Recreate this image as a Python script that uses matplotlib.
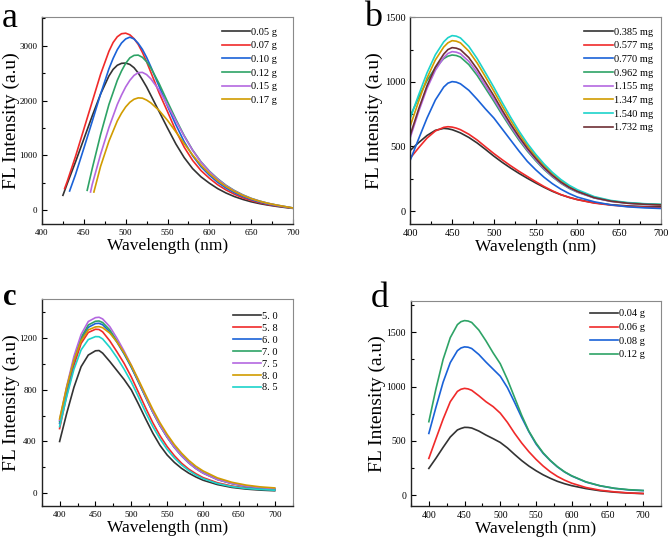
import matplotlib
matplotlib.use("Agg")
import matplotlib.pyplot as plt
from matplotlib.ticker import AutoMinorLocator

plt.rcParams['font.family'] = ['Liberation Serif', 'DejaVu Serif']

# ---------------- panel a : FL vs. amount (g) ----------------
a_labels = ["0.05 g", "0.07 g", "0.10 g", "0.12 g", "0.15 g", "0.17 g"]
a_x = [
    [425, 430, 440, 450, 460, 470, 480, 485, 490, 495, 500, 505, 510, 515, 520, 525, 530, 540, 550, 560, 570, 580, 590, 600, 610, 620, 630, 640, 650, 660, 670, 680, 690, 700],
    [427, 430, 440, 450, 460, 470, 480, 485, 490, 495, 500, 505, 510, 515, 520, 525, 530, 540, 550, 560, 570, 580, 590, 600, 610, 620, 630, 640, 650, 660, 670, 680, 690, 700],
    [433, 440, 450, 460, 470, 480, 485, 490, 495, 500, 505, 510, 515, 520, 525, 530, 540, 550, 560, 570, 580, 590, 600, 610, 620, 630, 640, 650, 660, 670, 680, 690, 700],
    [454, 460, 470, 480, 490, 495, 500, 505, 510, 515, 520, 525, 530, 540, 550, 560, 570, 580, 590, 600, 610, 620, 630, 640, 650, 660, 670, 680, 690, 700],
    [458, 460, 470, 480, 490, 495, 500, 505, 510, 515, 520, 525, 530, 540, 550, 560, 570, 580, 590, 600, 610, 620, 630, 640, 650, 660, 670, 680, 690, 700],
    [462, 470, 480, 490, 495, 500, 505, 510, 515, 520, 525, 530, 540, 550, 560, 570, 580, 590, 600, 610, 620, 630, 640, 650, 660, 670, 680, 690, 700],
]
a_y = [
    [273, 480, 880, 1300, 1720, 2120, 2450, 2570, 2645, 2680, 2685, 2660, 2600, 2505, 2380, 2250, 2100, 1800, 1500, 1210, 960, 760, 610, 495, 395, 315, 250, 198, 155, 122, 95, 72, 52, 35],
    [395, 520, 980, 1480, 1980, 2480, 2900, 3060, 3165, 3220, 3230, 3200, 3130, 3025, 2880, 2710, 2520, 2140, 1800, 1450, 1150, 910, 725, 585, 465, 370, 292, 228, 178, 138, 105, 80, 58, 38],
    [352, 650, 1130, 1620, 2120, 2580, 2770, 2930, 3050, 3125, 3157, 3125, 3045, 2935, 2790, 2620, 2260, 1900, 1560, 1250, 995, 795, 640, 510, 405, 320, 252, 196, 150, 114, 86, 62, 40],
    [364, 760, 1380, 1930, 2370, 2540, 2680, 2780, 2825, 2830, 2790, 2710, 2600, 2310, 1980, 1660, 1360, 1100, 885, 715, 575, 455, 360, 282, 218, 168, 128, 96, 68, 42],
    [333, 470, 1020, 1510, 1930, 2100, 2250, 2370, 2460, 2510, 2515, 2475, 2400, 2190, 1920, 1635, 1350, 1095, 880, 708, 565, 448, 354, 277, 215, 166, 126, 95, 68, 42],
    [333, 800, 1260, 1630, 1770, 1885, 1970, 2025, 2050, 2045, 2010, 1960, 1820, 1640, 1430, 1215, 1010, 825, 670, 540, 432, 343, 271, 212, 165, 127, 96, 69, 42],
]

# ---------------- panel b : FL vs. amount (mg) ----------------
b_labels = ["0.385 mg", "0.577 mg", "0.770 mg", "0.962 mg", "1.155 mg", "1.347 mg", "1.540 mg", "1.732 mg"]
b_x = [400, 410, 420, 430, 440, 445, 450, 455, 460, 470, 480, 490, 500, 510, 520, 530, 540, 550, 560, 570, 580, 590, 600, 620, 640, 660, 680, 700]
b_y = [
    [470, 530, 585, 625, 640, 637, 630, 618, 605, 570, 527, 477, 425, 377, 333, 292, 254, 218, 184, 153, 127, 106, 89, 64, 49, 40, 35, 33],
    [410, 490, 565, 620, 648, 653, 650, 642, 630, 595, 550, 497, 445, 397, 351, 308, 268, 228, 190, 157, 128, 106, 88, 62, 46, 36, 30, 26],
    [395, 560, 720, 860, 960, 990, 1002, 998, 985, 935, 865, 790, 720, 635, 550, 465, 385, 320, 262, 212, 170, 136, 108, 72, 48, 33, 25, 20],
    [735, 880, 1010, 1110, 1180, 1199, 1208, 1204, 1192, 1134, 1050, 950, 850, 745, 645, 550, 465, 390, 322, 265, 216, 176, 146, 102, 76, 62, 55, 50],
    [570, 770, 950, 1090, 1188, 1220, 1234, 1230, 1218, 1159, 1072, 970, 868, 760, 658, 562, 474, 398, 328, 270, 220, 180, 148, 102, 75, 60, 52, 47],
    [660, 850, 1030, 1170, 1270, 1302, 1319, 1315, 1302, 1238, 1146, 1038, 928, 812, 702, 600, 506, 425, 352, 290, 236, 192, 158, 108, 79, 63, 55, 49],
    [720, 900, 1070, 1210, 1310, 1342, 1358, 1354, 1340, 1275, 1180, 1070, 958, 840, 727, 620, 524, 440, 365, 300, 245, 200, 165, 112, 82, 66, 57, 52],
    [590, 790, 970, 1115, 1215, 1250, 1265, 1261, 1249, 1188, 1099, 996, 892, 780, 674, 576, 486, 408, 337, 277, 225, 184, 152, 104, 77, 61, 53, 48],
]

# ---------------- panel c : FL vs. pH ----------------
c_labels = ["5. 0", "5. 8", "6. 0", "7. 0", "7. 5", "8. 0", "8. 5"]
c_x = [400, 410, 420, 430, 440, 450, 455, 460, 470, 480, 490, 500, 510, 520, 530, 540, 550, 560, 570, 580, 590, 600, 620, 640, 660, 680, 700]
c_y = [
    [400, 620, 820, 980, 1070, 1103, 1105, 1085, 1020, 950, 880, 800, 690, 575, 465, 370, 295, 238, 192, 155, 125, 100, 66, 44, 31, 23, 18],
    [500, 760, 990, 1160, 1245, 1270, 1268, 1250, 1180, 1095, 1005, 900, 780, 660, 545, 445, 360, 290, 232, 186, 150, 120, 80, 55, 40, 31, 25],
    [540, 800, 1025, 1190, 1285, 1314, 1316, 1305, 1250, 1170, 1078, 975, 860, 742, 627, 523, 434, 356, 291, 237, 193, 158, 107, 75, 52, 37, 28],
    [555, 815, 1040, 1205, 1303, 1332, 1334, 1322, 1265, 1180, 1085, 980, 862, 744, 627, 523, 433, 354, 289, 234, 190, 155, 105, 74, 54, 41, 33],
    [565, 830, 1060, 1230, 1330, 1360, 1363, 1350, 1290, 1200, 1100, 990, 870, 750, 630, 525, 435, 355, 290, 235, 190, 155, 105, 75, 55, 42, 35],
    [575, 825, 1030, 1180, 1265, 1288, 1290, 1282, 1240, 1172, 1088, 990, 878, 762, 648, 545, 455, 376, 310, 254, 208, 172, 118, 84, 62, 48, 40],
    [515, 750, 960, 1110, 1190, 1213, 1212, 1195, 1130, 1050, 960, 860, 745, 625, 515, 420, 338, 272, 218, 175, 140, 112, 74, 50, 36, 28, 22],
]

# ---------------- panel d : FL vs. amount (g) ----------------
d_labels = ["0.04 g", "0.06 g", "0.08 g", "0.12 g"]
d_x = [400, 410, 420, 430, 440, 445, 450, 455, 460, 470, 480, 490, 500, 510, 520, 530, 540, 550, 560, 570, 580, 590, 600, 620, 640, 660, 680, 700]
d_y = [
    [246, 340, 440, 535, 600, 614, 624, 623, 618, 590, 553, 520, 485, 435, 375, 318, 268, 225, 187, 155, 127, 105, 87, 60, 40, 27, 19, 14],
    [338, 520, 700, 860, 955, 975, 983, 978, 965, 915, 860, 815, 755, 670, 570, 480, 400, 330, 268, 215, 172, 138, 110, 70, 45, 30, 20, 15],
    [568, 810, 1040, 1220, 1330, 1355, 1365, 1362, 1350, 1295, 1225, 1160, 1095, 990, 855, 715, 585, 472, 385, 318, 260, 213, 176, 120, 85, 62, 48, 41],
    [676, 980, 1250, 1450, 1570, 1597, 1607, 1603, 1590, 1520, 1420, 1310, 1210, 1065, 900, 735, 590, 480, 390, 320, 262, 215, 178, 122, 86, 63, 50, 43],
]

# colores tipo Origin
negro = '#333333'
rojo = '#F02A2A'
azul = '#1A62D8'
verde = '#2EA366'
morado = '#B468E0'
dorado = '#D19C00'
cian = '#1DD3CB'
marron = '#6E2F35'

a_colors = [negro, rojo, azul, verde, morado, dorado]
b_colors = [negro, rojo, azul, verde, morado, dorado, cian, marron]
c_colors = [negro, rojo, azul, verde, morado, dorado, cian]
d_colors = [negro, rojo, azul, verde]

fig = plt.figure(figsize=(6.7, 5.4), dpi=100)
ax_a = fig.add_axes([0.0627, 0.5852, 0.3746, 0.3828])
ax_b = fig.add_axes([0.6124, 0.5852, 0.3742, 0.3828])
ax_c = fig.add_axes([0.0622, 0.0630, 0.3746, 0.3827])
ax_d = fig.add_axes([0.6134, 0.0630, 0.3731, 0.3801])


def estilo(ax, xlim, ylim, yticks, xticks, tick_fs, ylab_x):
    ax.set_xlim(*xlim)
    ax.set_ylim(*ylim)
    ax.set_xticks(xticks)
    ax.set_yticks(yticks)
    ax.xaxis.set_minor_locator(AutoMinorLocator(2))
    ax.yaxis.set_minor_locator(AutoMinorLocator(2))
    ax.tick_params(which='both', direction='in', top=False, right=False,
                   labelsize=tick_fs, width=0.8, pad=3.5)
    ax.tick_params(which='major', length=3.5)
    ax.tick_params(which='minor', length=2)
    for lado in ['left', 'bottom']:
        ax.spines[lado].set_color('#222222')
        ax.spines[lado].set_linewidth(1.0)
    for lado in ['top', 'right']:
        ax.spines[lado].set_color('#8a8a8a')
        ax.spines[lado].set_linewidth(0.8)
    ax.set_xlabel("Wavelength (nm)", fontsize=12.5, labelpad=1)
    ax.set_ylabel("FL Intensity (a.u)", fontsize=14)
    ax.yaxis.set_label_coords(ylab_x, 0.5)


for xs, ys, lab, col in zip(a_x, a_y, a_labels, a_colors):
    ax_a.plot(xs, ys, color=col, lw=1.2, label=lab)
for ys, lab, col in zip(b_y, b_labels, b_colors):
    ax_b.plot(b_x, ys, color=col, lw=1.2, label=lab)
for ys, lab, col in zip(c_y, c_labels, c_colors):
    ax_c.plot(c_x, ys, color=col, lw=1.2, label=lab)
for ys, lab, col in zip(d_y, d_labels, d_colors):
    ax_d.plot(d_x, ys, color=col, lw=1.2, label=lab)

ticks_x = [400, 450, 500, 550, 600, 650, 700]
estilo(ax_a, (400, 700), (-250, 3520), [0, 1000, 2000, 3000], ticks_x, 6.5, -0.088)
estilo(ax_b, (400, 700), (-100, 1500), [0, 500, 1000, 1500], ticks_x, 7.5, -0.108)
estilo(ax_c, (375, 725), (-100, 1502), [0, 400, 800, 1200], ticks_x, 6.5, -0.088)
estilo(ax_d, (375, 725), (-100, 1790), [0, 500, 1000, 1500], ticks_x, 7.0, -0.1)

ley = dict(loc='upper right', frameon=False, handlelength=2.7, handletextpad=0.1,
           borderaxespad=0.0, fontsize=7.5)
ax_a.legend(bbox_to_anchor=(0.952, 0.972), labelspacing=0.42, **ley)
ax_b.legend(bbox_to_anchor=(0.984, 0.972), labelspacing=0.42, **ley)
ax_c.legend(bbox_to_anchor=(0.957, 0.960), labelspacing=0.25, **ley)
ax_d.legend(bbox_to_anchor=(0.952, 0.979), labelspacing=0.42, **ley)

# letras de cada panel
fig.text(0.002, 0.950, "a", fontsize=26, va='baseline')
fig.text(0.543, 0.952, "b", fontsize=26, va='baseline')
fig.text(0.004, 0.435, "c", fontsize=22, fontweight='bold', va='baseline')
fig.text(0.553, 0.431, "d", fontsize=26, va='baseline')

fig.savefig("out.png", dpi=100)
